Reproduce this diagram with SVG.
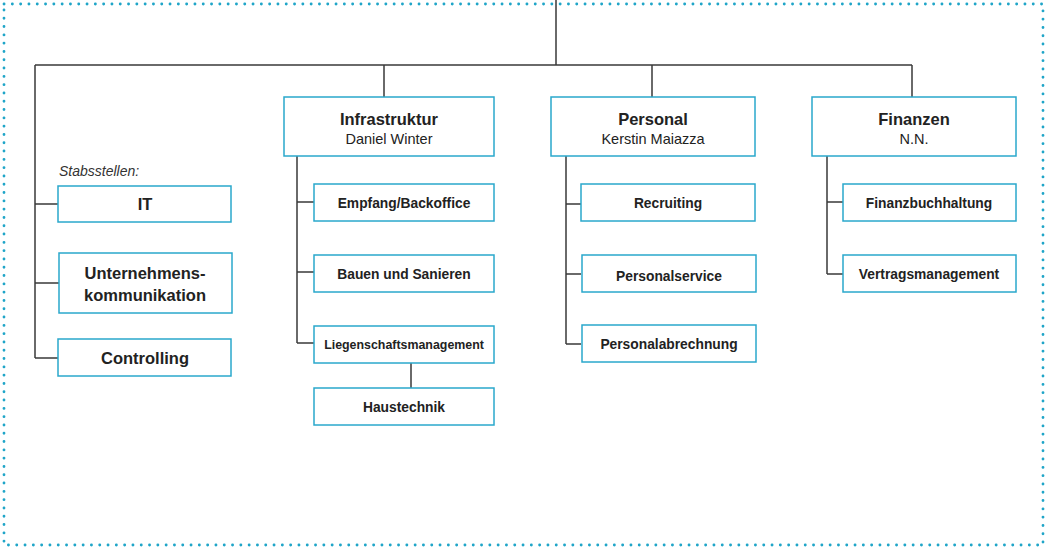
<svg xmlns="http://www.w3.org/2000/svg" width="1047" height="548" viewBox="0 0 1047 548">
<style>
.box{fill:#fff;stroke:#2aa8cc;stroke-width:1.5}
.ln{fill:none;stroke:#3a3a3a;stroke-width:1.5}
.t{font-family:"Liberation Sans",Arial,sans-serif;fill:#222;text-anchor:middle}
.h{font-size:16.5px;font-weight:bold}
.n{font-size:14.5px}
.s{font-size:13.8px;font-weight:bold}
.xs{font-size:12.4px;font-weight:bold}
.b{font-size:16.5px;font-weight:bold}
</style>
<rect x="4" y="4" width="1039" height="541" fill="none" stroke="#1fa5c8" stroke-width="2.8" stroke-dasharray="0.1 8.2" stroke-linecap="round"/>
<g id="connectors">
<path class="ln" d="M556 0V65M35 65H912M35 65V358M384 65V97M652 65V97M912 65V97"/>
<path class="ln" d="M35 204H58M35 283H59M35 358H58"/>
<path class="ln" d="M297 156V343M297 202H314M297 272H314M297 343H314M411 363V388"/>
<path class="ln" d="M566 156V344M566 204H581M566 274H581M566 344H581"/>
<path class="ln" d="M827 156V274M827 202H843M827 274H843"/>
</g>
<text class="t" x="59" y="176" style="font-size:14px;font-style:italic;text-anchor:start;fill:#333">Stabsstellen:</text>
<g id="it"><rect class="box" x="58" y="186" width="173" height="36"/><text class="t b" x="145" y="210">IT</text></g>
<g id="uk"><rect class="box" x="59" y="253" width="173" height="60"/><text class="t b" x="145" y="279">Unternehmens-</text><text class="t b" x="145" y="301">kommunikation</text></g>
<g id="controlling"><rect class="box" x="58" y="339" width="173" height="37"/><text class="t b" x="145" y="364">Controlling</text></g>
<g id="infrastruktur"><rect class="box" x="284" y="97" width="210" height="59"/><text class="t h" x="389" y="125">Infrastruktur</text><text class="t n" x="389" y="144">Daniel Winter</text></g>
<g id="empfang"><rect class="box" x="314" y="184" width="180" height="37"/><text class="t s" x="404" y="208">Empfang/Backoffice</text></g>
<g id="bauen"><rect class="box" x="314" y="255" width="180" height="37"/><text class="t s" x="404" y="279">Bauen und Sanieren</text></g>
<g id="liegenschaft"><rect class="box" x="314" y="326" width="180" height="37"/><text class="t xs" x="404" y="349">Liegenschaftsmanagement</text></g>
<g id="haustechnik"><rect class="box" x="314" y="388" width="180" height="37"/><text class="t s" x="404" y="412">Haustechnik</text></g>
<g id="personal"><rect class="box" x="551" y="97" width="204" height="59"/><text class="t h" x="653" y="125">Personal</text><text class="t n" x="653" y="144">Kerstin Maiazza</text></g>
<g id="recruiting"><rect class="box" x="581" y="184" width="174" height="37"/><text class="t s" x="668" y="208">Recruiting</text></g>
<g id="personalservice"><rect class="box" x="582" y="255" width="174" height="37"/><text class="t s" x="669" y="281">Personalservice</text></g>
<g id="personalabrechnung"><rect class="box" x="582" y="325" width="174" height="37"/><text class="t s" x="669" y="349">Personalabrechnung</text></g>
<g id="finanzen"><rect class="box" x="812" y="97" width="204" height="59"/><text class="t h" x="914" y="125">Finanzen</text><text class="t n" x="914" y="144">N.N.</text></g>
<g id="fibu"><rect class="box" x="843" y="184" width="173" height="37"/><text class="t s" x="929" y="208">Finanzbuchhaltung</text></g>
<g id="vertrag"><rect class="box" x="843" y="255" width="173" height="37"/><text class="t s" x="929" y="279">Vertragsmanagement</text></g>
</svg>
